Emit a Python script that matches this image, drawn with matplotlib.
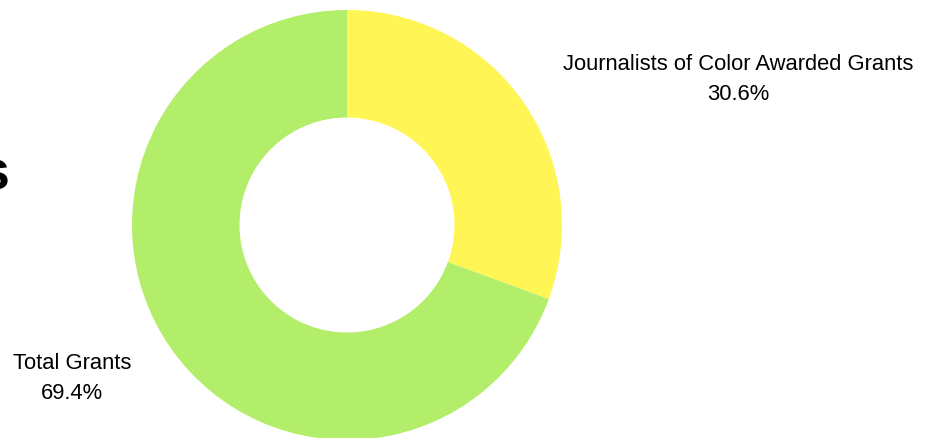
import matplotlib
matplotlib.use('Agg')
import matplotlib.pyplot as plt

plt.rcParams['font.family'] = ['Liberation Sans', 'DejaVu Sans']

labels = ['Journalists of Color Awarded Grants', 'Total Grants']
shares = [30.6, 69.4]
colors = ['#fff655', '#b3ee6a']

W, H = 927, 439
fig = plt.figure(figsize=(W / 100, H / 100), dpi=100)

# donut: centre (347, 226) px, outer radius 215 px
cx, cy, r = 347, 226, 215
ax = fig.add_axes([(cx - r) / W, (H - cy - r) / H, 2 * r / W, 2 * r / H])
ax.pie(shares, colors=colors, startangle=90, counterclock=False,
       radius=1.0, wedgeprops=dict(width=0.5, linewidth=0))
ax.set_xlim(-1, 1)
ax.set_ylim(-1, 1)
ax.set_aspect('equal')
ax.axis('off')

# outside labels
label_pos = [(738, 65), (72, 364)]
for (x, y), name, val in zip(label_pos, labels, shares):
    fig.text(x / W, 1 - y / H, name, ha='center', va='center', fontsize=15.8)
    fig.text(x / W, 1 - (y + 30) / H, f'{val}%', ha='center', va='center', fontsize=15.8)

# clipped title fragment at the left edge (cut off in the reference too)
fig.text(9 / W, 1 - 176 / H, 's', ha='right', va='center', fontsize=40, fontweight='bold')

fig.savefig('out.png', dpi=100)
